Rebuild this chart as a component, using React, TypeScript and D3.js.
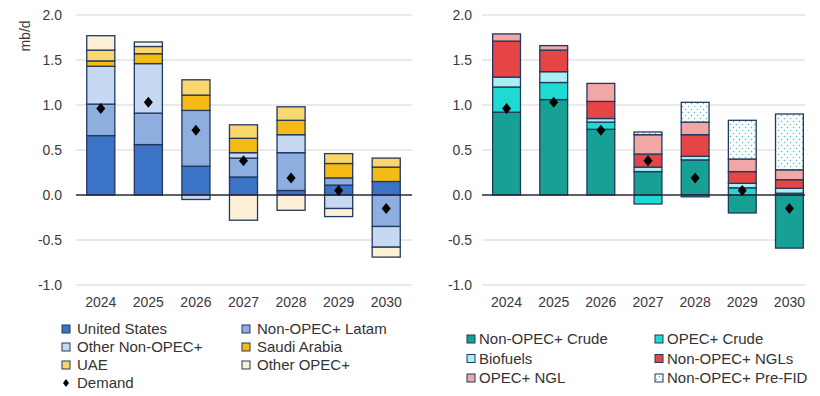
import * as d3 from 'd3';

const years = ['2024', '2025', '2026', '2027', '2028', '2029', '2030'];

// left panel: supply growth by region (mb/d)
const unitedStates = [0.66, 0.56, 0.32, 0.2, 0.05, 0.11, 0.15];
const nonOpecLatam = [0.35, 0.35, 0.62, 0.21, 0.42, 0.08, -0.35];
const otherNonOpec = [0.42, 0.55, -0.05, 0.06, 0.2, -0.15, -0.23];
const saudiArabia = [0.06, 0.11, 0.17, 0.16, 0.16, 0.16, 0.16];
const uae = [0.12, 0.08, 0.17, 0.15, 0.15, 0.11, 0.1];
const otherOpec = [0.16, 0.05, 0, -0.28, -0.17, -0.09, -0.11];

// right panel: supply growth by type (mb/d)
const nonOpecCrude = [0.92, 1.06, 0.73, 0.26, 0.39, -0.2, -0.59];
const opecCrude = [0.28, 0.19, 0.08, -0.1, -0.02, 0.08, 0.02];
const biofuels = [0.11, 0.12, 0.04, 0.05, 0.04, 0.05, 0.055];
const nonOpecNgls = [0.4, 0.24, 0.19, 0.145, 0.24, 0.13, 0.095];
const opecNgl = [0.08, 0.05, 0.2, 0.215, 0.14, 0.14, 0.11];
const preFid = [0, 0, 0, 0.03, 0.22, 0.43, 0.62];

const demand = [0.96, 1.03, 0.72, 0.38, 0.19, 0.05, -0.15];

const yTicks = [-1, -0.5, 0, 0.5, 1, 1.5, 2];

interface Series {
  name: string;
  values: number[];
  color: string;
}

const leftSeries: Series[] = [
  { name: 'United States', values: unitedStates, color: '#3b74c6' },
  { name: 'Non-OPEC+ Latam', values: nonOpecLatam, color: '#8eaee0' },
  { name: 'Other Non-OPEC+', values: otherNonOpec, color: '#c7d9f2' },
  { name: 'Saudi Arabia', values: saudiArabia, color: '#f5ba14' },
  { name: 'UAE', values: uae, color: '#fad76c' },
  { name: 'Other OPEC+', values: otherOpec, color: '#fef0d6' },
];

const rightSeries: Series[] = [
  { name: 'Non-OPEC+ Crude', values: nonOpecCrude, color: '#17a194' },
  { name: 'OPEC+ Crude', values: opecCrude, color: '#1fd9d3' },
  { name: 'Biofuels', values: biofuels, color: '#aaeef2' },
  { name: 'Non-OPEC+ NGLs', values: nonOpecNgls, color: '#e64545' },
  { name: 'OPEC+ NGL', values: opecNgl, color: '#f2a7a7' },
  { name: 'Non-OPEC+ Pre-FID', values: preFid, color: 'url(#dots)' },
];

const stroke = '#22385e';
const font = '"Liberation Sans", Arial, sans-serif';

const y = d3.scaleLinear().domain([-1, 2]).range([285, 15]);

function Panel({ series, x0, x1, gridEnd, labelX }: { series: Series[]; x0: number; x1: number; gridEnd: number; labelX: number }) {
  const x = d3.scaleBand().domain(years).range([x0, x1]).paddingInner(0.41).paddingOuter(0.205);
  const rows = years.map((yr, i) => {
    const r: Record<string, number | string> = { year: yr };
    series.forEach(s => (r[s.name] = s.values[i]));
    return r;
  });
  const stacked = d3
    .stack<Record<string, number | string>>()
    .keys(series.map(s => s.name))
    .offset(d3.stackOffsetDiverging)(rows as any);

  return (
    <g>
      {yTicks.map(t => (
        <g key={t}>
          {t !== 0 && <line x1={x0 - 1} x2={gridEnd} y1={y(t)} y2={y(t)} stroke="#e3e3e3" strokeWidth={1.5} />}
          <text x={labelX} y={y(t)} dy="0.35em" textAnchor="end" fontSize={14} fill="#3a3a3a" fontFamily={font}>
            {t.toFixed(1)}
          </text>
        </g>
      ))}
      {stacked.map((layer, li) => (
        <g key={layer.key} fill={series[li].color}>
          {layer.map((d, i) =>
            d[1] - d[0] === 0 ? null : (
              <rect
                key={i}
                x={x(years[i])!}
                width={x.bandwidth()}
                y={y(Math.max(d[0], d[1]))}
                height={Math.abs(y(d[0]) - y(d[1]))}
                stroke={stroke}
                strokeWidth={1.3}
              />
            )
          )}
        </g>
      ))}
      <line x1={x0 - 1} x2={gridEnd} y1={y(0)} y2={y(0)} stroke="#2a2a3a" strokeWidth={1.5} />
      {demand.map((v, i) => {
        const cx = x(years[i])! + x.bandwidth() / 2;
        return <path key={i} d="M0,-5.5L4.5,0L0,5.5L-4.5,0Z" transform={`translate(${cx},${y(v)})`} fill="#000" />;
      })}
      {years.map(yr => (
        <text key={yr} x={x(yr)! + x.bandwidth() / 2} y={307} textAnchor="middle" fontSize={14} fill="#3a3a3a" fontFamily={font}>
          {yr}
        </text>
      ))}
    </g>
  );
}

function Legend({ items, x0, x1, y0, dy, gap }: { items: { name: string; color: string; diamond?: boolean }[]; x0: number; x1: number; y0: number; dy: number; gap: number }) {
  return (
    <g fontFamily={font} fontSize={15} fill="#333">
      {items.map((it, i) => {
        const lx = i % 2 === 0 ? x0 : x1;
        const ly = y0 + Math.floor(i / 2) * dy;
        return (
          <g key={it.name} transform={`translate(${lx},${ly})`}>
            {it.diamond ? (
              <path d="M0,-4L3,0L0,4L-3,0Z" transform="translate(4,0)" fill="#000" />
            ) : (
              <rect x={0} y={-4} width={8} height={8} fill={it.color} stroke={stroke} strokeWidth={1} />
            )}
            <text x={gap} y={0} dy="0.35em" fill="#333">
              {it.name}
            </text>
          </g>
        );
      })}
    </g>
  );
}

export default function App() {
  const leftLegend = [
    ...leftSeries.map(s => ({ name: s.name, color: s.color })),
    { name: 'Demand', color: '#000', diamond: true },
  ];
  const rightLegend = rightSeries.map(s => ({ name: s.name, color: s.color }));
  return (
    <svg width={820} height={396} style={{ position: 'absolute', left: 0, top: 0, background: '#fff' }}>
      <defs>
        <pattern id="dots" width={6} height={6} patternUnits="userSpaceOnUse">
          <rect width={6} height={6} fill="#fbfdfd" />
          <circle cx={1.5} cy={1.5} r={0.75} fill="#5fb8bc" />
          <circle cx={4.5} cy={4.5} r={0.75} fill="#5fb8bc" />
        </pattern>
      </defs>
      <text transform="translate(30,36) rotate(-90)" textAnchor="middle" fontSize={14} fill="#3a3a3a" fontFamily={font}>
        mb/d
      </text>
      <Panel series={leftSeries} x0={77} x1={410} gridEnd={412} labelX={62} />
      <Panel series={rightSeries} x0={483} x1={813} gridEnd={805} labelX={472} />
      <Legend items={leftLegend} x0={62} x1={242} y0={329} dy={18} gap={15} />
      <Legend items={rightLegend} x0={467} x1={655} y0={339} dy={19.5} gap={12} />
    </svg>
  );
}
